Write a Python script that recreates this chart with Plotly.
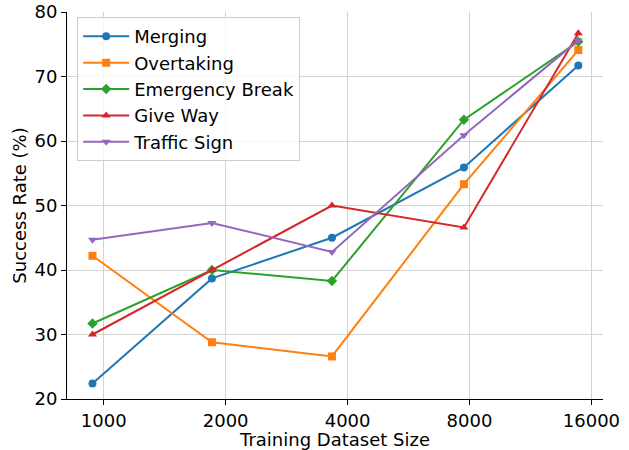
import plotly.graph_objects as go

dataset_size = [938, 1850, 3660, 7750, 14850]
merging = [22.4, 38.7, 45.0, 55.9, 71.7]
overtaking = [42.2, 28.8, 26.6, 53.3, 74.1]
emergency_break = [31.7, 40.0, 38.3, 63.3, 75.4]
give_way = [30.0, 40.0, 50.0, 46.6, 76.7]
traffic_sign = [44.7, 47.3, 42.8, 60.9, 75.6]

major_ticks = [1000, 2000, 4000, 8000, 16000]
major_labels = ["1000", "2000", "4000", "8000", "16000"]
minor_ticks = [900, 3000, 5000, 6000, 7000, 9000]
y_ticks = [20, 30, 40, 50, 60, 70, 80]

series = [
    ("Merging", merging, "#1f77b4", "circle"),
    ("Overtaking", overtaking, "#ff7f0e", "square"),
    ("Emergency Break", emergency_break, "#2ca02c", "diamond"),
    ("Give Way", give_way, "#d62728", "triangle-up"),
    ("Traffic Sign", traffic_sign, "#9467bd", "triangle-down"),
]

FONT = "DejaVu Sans"
FS = 18
fig = go.Figure()
for i, (name, vals, color, sym) in enumerate(series):
    fig.add_trace(go.Scatter(
        x=dataset_size, y=vals, name=name, mode="lines+markers",
        line=dict(color=color, width=2),
        marker=dict(symbol=sym, size=8, color=color),
    ))

xr = [2.9093, 4.2327]
fig.update_layout(
    width=629, height=450,
    margin=dict(l=67, r=26, t=12, b=51),
    paper_bgcolor="white", plot_bgcolor="white",
    font=dict(family=FONT, size=FS, color="black"),
    showlegend=True,
    legend=dict(
        x=0.019, y=0.987, xanchor="left", yanchor="top",
        bgcolor="rgba(255,255,255,0.8)", bordercolor="#cccccc", borderwidth=1,
        font=dict(family=FONT, size=FS, color="black"),
        itemwidth=46,
    ),
    xaxis=dict(
        type="log", range=xr, automargin=False,
        tickvals=major_ticks, ticktext=major_labels,
        showgrid=True, gridcolor="#d3d3d3", gridwidth=1,
        showline=True, linecolor="black", linewidth=1,
        ticks="outside", ticklen=5, tickcolor="black", tickwidth=1,
        zeroline=False,
        title=dict(text="Training Dataset Size", font=dict(size=FS), standoff=4),
    ),
    xaxis2=dict(
        type="log", range=xr, overlaying="x", anchor="y", side="bottom",
        automargin=False,
        tickvals=minor_ticks, showticklabels=False, showgrid=False,
        ticks="outside", ticklen=3, tickcolor="black", tickwidth=1,
        showline=False, zeroline=False,
    ),
    yaxis=dict(
        range=[20, 80], tickvals=y_ticks, automargin=False,
        ticklabeloverflow="allow",
        showgrid=True, gridcolor="#d3d3d3", gridwidth=1,
        showline=True, linecolor="black", linewidth=1,
        ticks="outside", ticklen=5, tickcolor="black", tickwidth=1,
        zeroline=False,
        title=dict(text="Success Rate (%)", font=dict(size=FS), standoff=3),
    ),
)
fig.write_html(
    "out.html",
    config={"displayModeBar": False},
    post_script="document.body.style.margin='0px';document.body.style.overflow='hidden';",
)
